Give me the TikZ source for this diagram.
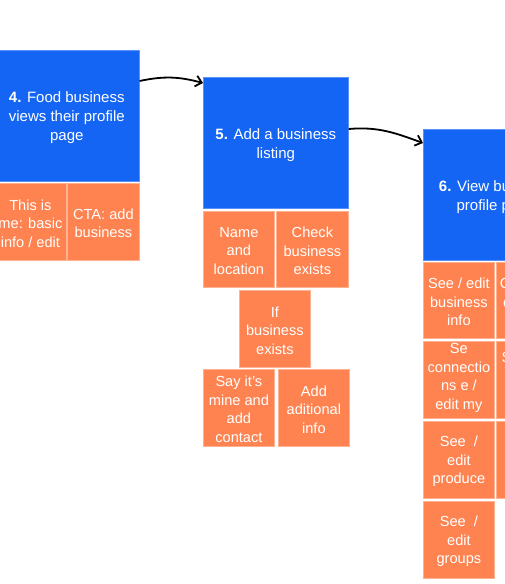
\documentclass[tikz,border=0pt]{standalone}
\usepackage{fontspec}
\setmainfont{Liberation Sans}
\usetikzlibrary{arrows.meta,calc}
\definecolor{myblue}{RGB}{21,101,245}
\definecolor{myblueedge}{RGB}{90,145,250}
\definecolor{myorange}{RGB}{255,131,80}
\definecolor{myorangeedge}{RGB}{255,178,145}
\tikzset{
  bluebox/.style={fill=myblue, draw=myblueedge, line width=0.6pt, anchor=north west,
    minimum width=145pt, minimum height=131pt, inner sep=0pt},
  bluetext/.style={text=white, align=center, inner sep=0pt,
    font=\fontsize{15}{19}\selectfont},
  cellbox/.style={fill=myorange, draw=myorangeedge, line width=0.8pt, anchor=north west,
    inner sep=0pt},
  celltext/.style={text=white, align=center, inner sep=0pt,
    font=\fontsize{14.6}{18.5}\selectfont},
  flow/.style={line width=1.8pt, -{Straight Barb[length=6pt,width=11pt,line width=1.8pt]}}
}
% name, position, width, height, vertical offset, text
\newcommand\mycell[6]{%
  \node[cellbox, minimum width=#3, minimum height=#4] (#1) at (#2) {};
  \node[celltext] (#1t) at ($(#1.center)+(0,#5)$) {#6};}
\begin{document}
\begin{tikzpicture}[x=1pt,y=-1pt]
\useasboundingbox (0,0) rectangle (505,584);
\clip (0,0) rectangle (505,584);
% step 4
\node[bluebox] (b4) at (-6,50) {};
\node[bluetext] (b4t) at ($(b4.center)+(0,2)$) {\textbf{4.} Food business\\views their profile\\page};
\mycell{c4a}{-6,183}{72pt}{77pt}{1.5}{This is\\me: basic\\info / edit}
\mycell{c4b}{67,183}{72pt}{77pt}{1.5}{CTA: add\\business}
% step 5
\node[bluebox] (b5) at (203,77) {};
\node[bluetext] (b5t) at ($(b5.center)+(0,2)$) {\textbf{5.} Add a business\\listing};
\mycell{c5a}{203,211}{71pt}{76pt}{1.5}{Name\\and\\location}
\mycell{c5b}{276,211}{72pt}{76pt}{1.5}{Check\\business\\exists}
\mycell{c5c}{239,290}{71pt}{77pt}{1.5}{If\\business\\exists}
\mycell{c5d}{203,369}{71pt}{77pt}{1.5}{Say it’s\\mine and\\add\\contact}
\mycell{c5e}{278,369}{71pt}{77pt}{1.5}{Add\\aditional\\info}
% step 6
\node[bluebox] (b6) at (423,129) {};
\node[bluetext] (b6t) at ($(b6.center)+(0,2.5)$) {\textbf{6.} View business\\profile page};
\mycell{c6a}{423,262}{71pt}{76pt}{1.5}{See / edit\\business\\info}
\mycell{c6b}{496,262}{72pt}{76pt}{1.5}{Check my\\connects\\list}
\mycell{c6c}{423,341}{71pt}{77pt}{-2}{Se\\connectio\\ns e /\\edit my}
\mycell{c6d}{496,341}{72pt}{77pt}{-23}{See / edit}
\mycell{c6e}{423,421}{71pt}{77pt}{1.5}{See\ \ /\\edit\\produce}
\mycell{c6f}{496,421}{72pt}{77pt}{0}{}
\mycell{c6g}{423,501}{71pt}{77pt}{1.5}{See\ \ /\\edit\\groups}
% connectors
\draw[flow] ($(b4.north east)+(0,31)$) to[out=12,in=165] ($(b5.north west)+(0,6)$);
\draw[flow] ($(b5.north east)+(0,52)$) to[out=5,in=160] ($(b6.north west)+(0,14)$);
\end{tikzpicture}
\end{document}
